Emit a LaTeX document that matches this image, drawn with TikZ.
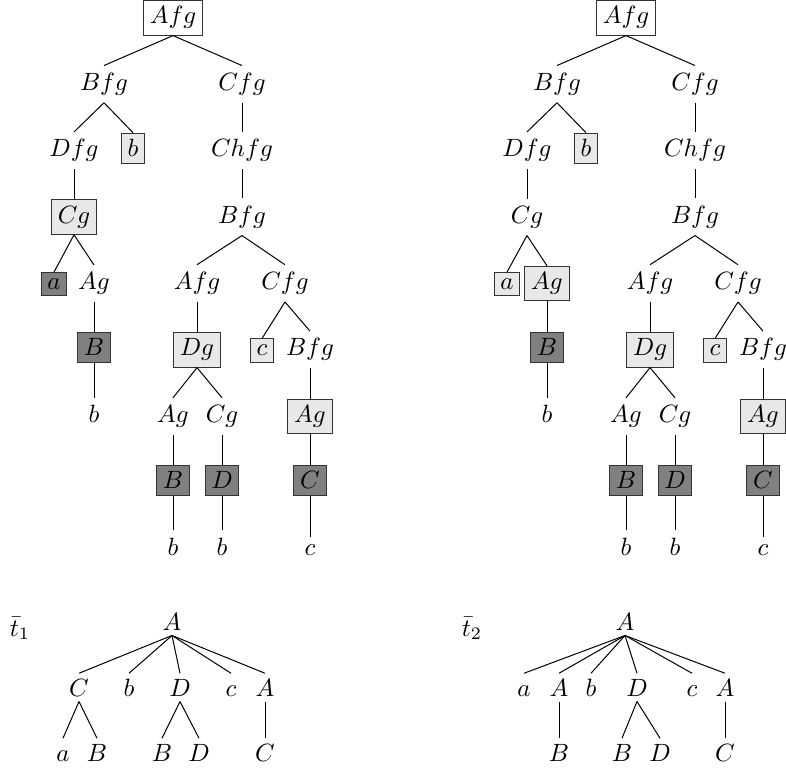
\documentclass[tikz,border=0pt]{standalone}
\begin{document}
\begin{tikzpicture}[x=0.4pt,y=-0.4pt]
\tikzset{
  pl/.style={inner sep=2.8pt, anchor=base},
  bx/.style={draw=black!80, inner sep=2.5pt, anchor=base},
  wb/.style={bx, fill=white},
  lb/.style={bx, fill=black!9},
  db/.style={bx, fill=black!50},
  bt/.style={inner sep=2pt, text height=6.9pt, text depth=0pt, anchor=base},
  edge/.style={draw=black, line width=0.4pt}
}
\useasboundingbox (0,0) rectangle (786,771);
\newcommand\mytree[5]{%
\begin{scope}[shift={(#1,0)}]
\node[wb] (#2A0) at (173,24) {$Afg$};
\node[pl] (#2B1) at (104,90.4) {$Bfg$};
\node[pl] (#2C1) at (242,90.4) {$Cfg$};
\node[pl] (#2D2) at (74,156.8) {$Dfg$};
\node[lb] (#2b2) at (133,156.8) {$b$};
\node[pl] (#2Ch2) at (242,156.8) {$Chfg$};
\node[#3] (#2Cg3) at (74,223.2) {$Cg$};
\node[pl] (#2B3) at (242,223.2) {$Bfg$};
\node[#4] (#2a4) at (54,289.6) {$a$};
\node[#5] (#2Ag4) at (94,289.6) {$Ag$};
\node[pl] (#2Af4) at (197,289.6) {$Afg$};
\node[pl] (#2Cf4) at (285,289.6) {$Cfg$};
\node[db] (#2B5) at (94,356) {$B$};
\node[lb] (#2Dg5) at (197,356) {$Dg$};
\node[lb] (#2c5) at (262,356) {$c$};
\node[pl] (#2Bf5) at (310,356) {$Bfg$};
\node[pl] (#2b6) at (94,422.4) {$b$};
\node[pl] (#2Ag6) at (173,422.4) {$Ag$};
\node[pl] (#2Cg6) at (222,422.4) {$Cg$};
\node[lb] (#2Agb6) at (310,422.4) {$Ag$};
\node[db] (#2B7) at (173,488.8) {$B$};
\node[db] (#2D7) at (222,488.8) {$D$};
\node[db] (#2C7) at (310,488.8) {$C$};
\node[pl] (#2b8) at (173,555.2) {$b$};
\node[pl] (#2bb8) at (222,555.2) {$b$};
\node[pl] (#2c8) at (310,555.2) {$c$};
\foreach \p/\c in {A0/B1,A0/C1,B1/D2,B1/b2,C1/Ch2,D2/Cg3,Ch2/B3,Cg3/a4,Cg3/Ag4,B3/Af4,B3/Cf4,Ag4/B5,B5/b6,Af4/Dg5,Cf4/c5,Cf4/Bf5,Dg5/Ag6,Dg5/Cg6,Bf5/Agb6,Ag6/B7,Cg6/D7,Agb6/C7,B7/b8,D7/bb8,C7/c8}
  \draw[edge] (#2\p.south) -- (#2\c.north);
\end{scope}}
\mytree{0}{L}{lb}{db}{pl}
\mytree{453}{R}{pl}{lb}{lb}
% bottom tree t1
\node[anchor=base] (lab1) at (20,636) {$\bar t_1$};
\node[bt] (u0) at (172,630) {$A$};
\node[bt] (u1) at (79,696) {$C$};
\node[bt] (u2) at (129,696) {$b$};
\node[bt] (u3) at (180,696) {$D$};
\node[bt] (u4) at (231,696) {$c$};
\node[bt] (u5) at (265,696) {$A$};
\node[bt] (u11) at (63,761) {$a$};
\node[bt] (u12) at (97,761) {$B$};
\node[bt] (u31) at (162,761) {$B$};
\node[bt] (u32) at (199,761) {$D$};
\node[bt] (u51) at (265,761) {$C$};
\foreach \c in {u1,u2,u3,u4,u5} \draw[edge] (u0.south) -- (\c.north);
\foreach \p/\c in {u1/u11,u1/u12,u3/u31,u3/u32,u5/u51} \draw[edge] (\p.south) -- (\c.north);
% bottom tree t2
\node[anchor=base] (lab2) at (472,636) {$\bar t_2$};
\node[bt] (v0) at (625,630) {$A$};
\node[bt] (v1) at (524,696) {$a$};
\node[bt] (v2) at (559,696) {$A$};
\node[bt] (v3) at (591,696) {$b$};
\node[bt] (v4) at (637,696) {$D$};
\node[bt] (v5) at (692,696) {$c$};
\node[bt] (v6) at (725,696) {$A$};
\node[bt] (v21) at (559,761) {$B$};
\node[bt] (v41) at (622,761) {$B$};
\node[bt] (v42) at (660,761) {$D$};
\node[bt] (v61) at (725,761) {$C$};
\foreach \c in {v1,v2,v3,v4,v5,v6} \draw[edge] (v0.south) -- (\c.north);
\foreach \p/\c in {v2/v21,v4/v41,v4/v42,v6/v61} \draw[edge] (\p.south) -- (\c.north);
\end{tikzpicture}
\end{document}
